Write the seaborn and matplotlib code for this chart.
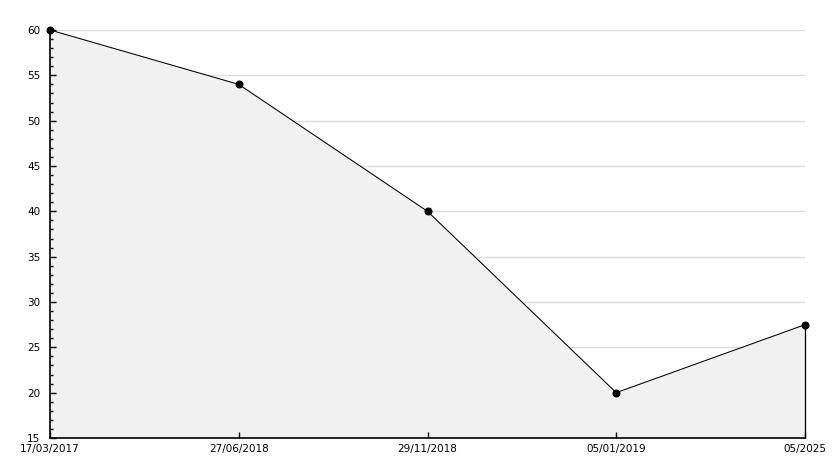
import pandas as pd
import seaborn as sns
import matplotlib.pyplot as plt
from matplotlib.ticker import MultipleLocator

# Chart data
dates = ['17/03/2017', '27/06/2018', '29/11/2018', '05/01/2019', '05/2025']
values = [60, 54, 40, 20, 27.5]

df = pd.DataFrame({'pos': range(len(dates)), 'value': values})

sns.set_style('white')
plt.rcParams['font.family'] = ['DejaVu Sans']

fig = plt.figure(figsize=(8.34, 4.68), dpi=100)
ax = fig.add_axes([50 / 834, 30 / 468, 755 / 834, 408 / 468])

ax.set_xlim(0, len(dates) - 1)
ax.set_ylim(15, 60)

# Horizontal grid lines, kept under the grey area
for y in range(15, 61, 5):
    ax.axhline(y, color='#dddddd', linewidth=1, zorder=0.5)

# Grey area under the line, closed on the right by a thin line
ax.fill_between(df['pos'], df['value'], 15, color='#f1f1f1', zorder=1)
ax.vlines(df['pos'].iloc[-1], 15, df['value'].iloc[-1], color='black',
          linewidth=0.9, zorder=2, clip_on=False)

sns.lineplot(data=df, x='pos', y='value', color='black', linewidth=0.75,
             marker='o', markersize=5, markeredgecolor='black', sort=False,
             ax=ax, zorder=3, clip_on=False)

ax.set_xticks(range(len(dates)))
ax.set_xticklabels(dates)
ax.yaxis.set_major_locator(MultipleLocator(5))
ax.yaxis.set_minor_locator(MultipleLocator(1))

# ticks must sit above the grey fill
ax.set_axisbelow(False)

for side in ['top', 'right']:
    ax.spines[side].set_visible(False)
for side in ['left', 'bottom']:
    ax.spines[side].set_color('black')
    ax.spines[side].set_linewidth(1.2)

ax.tick_params(axis='y', which='major', direction='in', length=4, width=1,
               labelsize=7.5, pad=7, left=True, color='black', labelcolor='black')
ax.tick_params(axis='y', which='minor', direction='in', length=2.5, width=1,
               left=True, color='black')
ax.tick_params(axis='x', which='major', direction='in', length=4, width=1,
               labelsize=7.5, pad=4, bottom=True, color='black', labelcolor='black')

ax.set_xlabel('')
ax.set_ylabel('')

fig.savefig('out.png', dpi=100, facecolor='white')
